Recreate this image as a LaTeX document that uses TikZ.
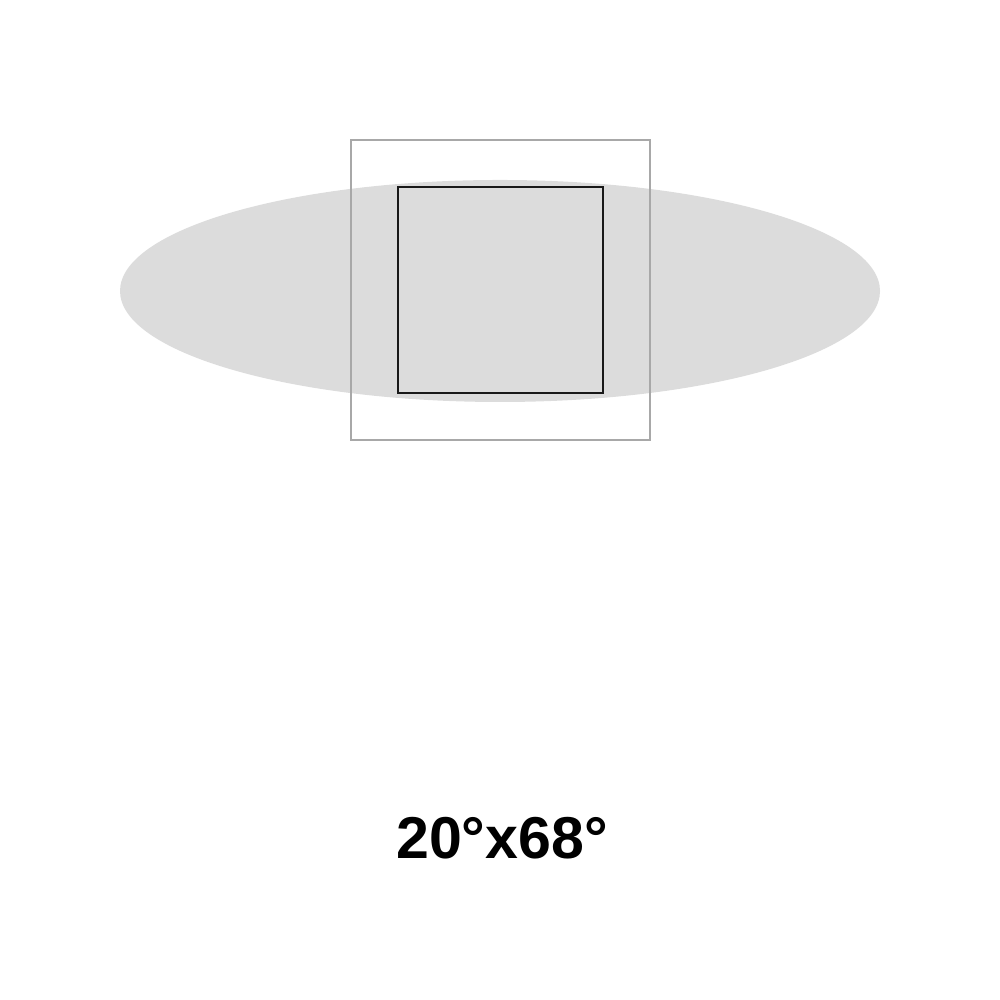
\documentclass[tikz,border=0pt]{standalone}
\usepackage{fontspec}
\setmainfont{Liberation Sans}
\usetikzlibrary{positioning}
\definecolor{beamgray}{HTML}{DCDCDC}
\definecolor{framegray}{HTML}{A8A8A8}

\begin{document}
\begin{tikzpicture}[frame/.style={draw=framegray,line width=0.35pt},
                    lens/.style={draw=black!90,line width=0.75pt},
                    angle/.style={font=\fontsize{16.8}{20}\selectfont\bfseries}]
  \useasboundingbox (0,0) rectangle (10,10);

  % beam spread
  \fill[beamgray] (5,7.09) ellipse (3.8 and 1.11);

  \draw[frame] (3.51,5.6) rectangle (6.5,8.6);
  \draw[lens] (3.98,6.07) rectangle (6.03,8.13);

  \node[angle] (spread) at (5.02,1.62) {20°x68°};
\end{tikzpicture}
\end{document}
